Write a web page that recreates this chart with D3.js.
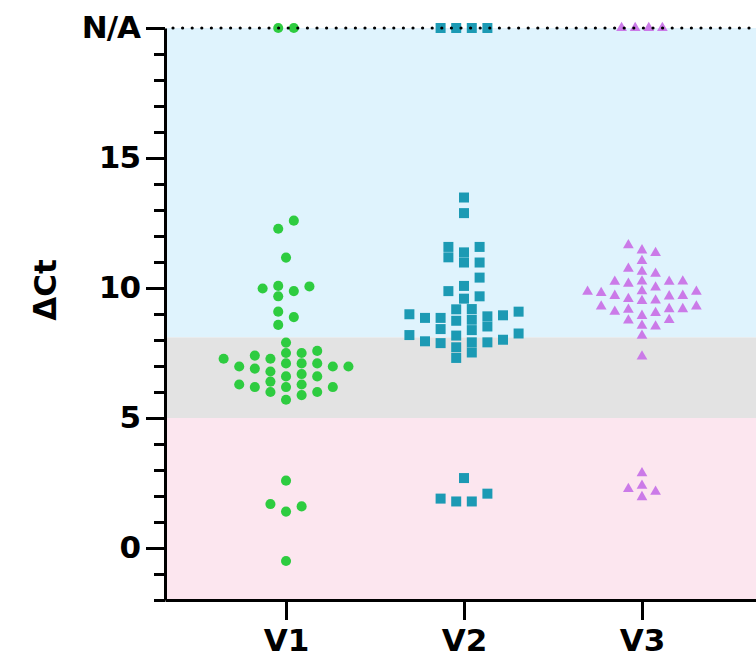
<!DOCTYPE html>
<html>
<head>
<meta charset="utf-8">
<script src="https://cdn.jsdelivr.net/npm/d3@7"></script>
<style>
body { margin: 0; background: #ffffff; }
text { font-family: "DejaVu Sans", "Liberation Sans", Arial, sans-serif; font-weight: bold; }
</style>
</head>
<body>
<div id="divForChart"></div>
<script>
// values
var groups = ["V1", "V2", "V3"];
var v1Values = [12.59, 12.28, 11.17, 10.06, 9.88, 9.98, 10.08, 9.68, 9.09, 8.88, 8.58,
	7.90, 7.58, 7.50, 7.50, 7.10, 6.98, 7.28, 7.10, 7.28, 6.90, 6.98, 7.40, 6.98, 7.10,
	6.60, 6.79, 6.69, 6.60, 6.29, 6.19, 6.29, 6.19, 6.19, 6.40, 6.00, 5.88, 5.70, 6.00,
	2.59, 1.69, 1.60, 1.40, -0.50];
var v2Values = [13.48, 12.88, 11.58, 11.58, 11.37, 10.98, 11.18, 10.98, 10.40, 9.88, 10.08,
	9.59, 9.68, 8.95, 9.18, 8.78, 8.85, 8.85, 9.19, 8.74, 8.91, 9.09, 8.99, 8.25, 8.38,
	8.42, 8.52, 8.19, 7.91, 8.01, 7.88, 7.52, 8.17, 7.72, 7.31, 7.91, 7.95,
	2.69, 2.09, 1.79, 1.79, 1.90];
var v3Values = [11.45, 11.35, 11.65, 11.04, 10.74, 10.55, 10.63, 10.24, 10.24, 10.17, 10.02,
	10.25, 10.25, 9.88, 9.70, 9.86, 9.81, 9.70, 9.52, 9.58, 9.68, 9.86, 9.19, 9.50, 9.17,
	8.93, 9.04, 9.09, 9.19, 9.29, 9.29, 8.77, 8.55, 8.52, 8.75, 8.17, 7.37,
	2.88, 2.40, 2.27, 2.17, 1.96];
var naCounts = [2, 4, 4];
var naValue = 20;
var majorTicks = [0, 5, 10, 15, 20];
var minorTicks = [-2, -1, 1, 2, 3, 4, 6, 7, 8, 9, 11, 12, 13, 14, 16, 17, 18, 19];
var bands = [[8.1, 20], [5, 8.1], [-2, 5]];

var width = 756;
var height = 657;
var axisX = 165;
var axisY = 600;
var bandColors = ["#dff3fd", "#e3e3e3", "#fce6ef"];
var pointColors = ["#2ecc40", "#1c9ab4", "#cb7ae8"];
var symbols = [d3.symbolCircle, d3.symbolSquare, d3.symbolTriangle];
var symbolSizes = [80, 100, 50];
var colStep = [15.6, 15.6, 13.6];
var rowGap = [10, 10, 9.5];

var y = d3.scaleLinear().domain([-2, 20]).range([axisY, 28]);
var x = d3.scalePoint().domain(groups).range([axisX, 763]).padding(0.68);

var svg = d3.select("#divForChart").append("svg")
	.attr("width", width)
	.attr("height", height)
	.attr("id", "chartSVG");

// background bands
svg.selectAll(".band").data(bands).enter().append("rect")
	.attr("class", "band")
	.attr("x", axisX)
	.attr("y", function(d) { return y(d[1]); })
	.attr("width", width - axisX)
	.attr("height", function(d) { return y(d[0]) - y(d[1]); })
	.attr("fill", function(d, i) { return bandColors[i]; });

// simple column swarm: lowest first, nearest free column, then centre each clump
function swarm(vals, step, gap)
{
	var pts = vals.map(function(v) { return {v: v, py: y(v)}; })
		.sort(function(a, b) { return a.v - b.v; });
	var placed = [];
	pts.forEach(function(p) {
		for (var k = 0; k < 50; k++)
		{
			var cands = k == 0 ? [0] : [k, -k];
			var free = cands.filter(function(c) {
				return !placed.some(function(q) { return q.col == c && Math.abs(q.py - p.py) < gap; });
			});
			if (free.length) { p.col = free[0]; break; }
		}
		placed.push(p);
	});
	var parent = placed.map(function(d, i) { return i; });
	function find(i) { while (parent[i] != i) i = parent[i]; return i; }
	for (var i = 0; i < placed.length; i++)
		for (var j = i + 1; j < placed.length; j++)
			if (Math.abs(placed[i].py - placed[j].py) < gap && Math.abs(placed[i].col - placed[j].col) <= 1)
				parent[find(j)] = find(i);
	var clumps = d3.group(placed, function(d) { return find(placed.indexOf(d)); });
	clumps.forEach(function(list) {
		var mid = (d3.min(list, function(d) { return d.col; }) + d3.max(list, function(d) { return d.col; })) / 2;
		list.forEach(function(d) { d.off = (d.col - mid) * step; });
	});
	return placed;
}

var allValues = [v1Values, v2Values, v3Values];
allValues.forEach(function(vals, gi) {
	var list = vals.concat(d3.range(naCounts[gi]).map(function() { return naValue; }));
	var pts = swarm(list, colStep[gi], rowGap[gi]);
	svg.append("g").attr("id", "G" + groups[gi])
		.selectAll("path").data(pts).enter().append("path")
		.attr("d", d3.symbol().type(symbols[gi]).size(symbolSizes[gi]))
		.attr("transform", function(d) { return "translate(" + (x(groups[gi]) + d.off) + "," + d.py + ")"; })
		.attr("fill", pointColors[gi]);
});

// dotted N/A line over the points
svg.append("line")
	.attr("x1", axisX + 8)
	.attr("x2", width)
	.attr("y1", y(naValue))
	.attr("y2", y(naValue))
	.attr("stroke", "#000")
	.attr("stroke-width", 3.2)
	.attr("stroke-linecap", "round")
	.attr("stroke-dasharray", "0 9.6");

// axes
var minorAxis = svg.append("g")
	.attr("transform", "translate(" + axisX + ",0)")
	.call(d3.axisLeft(y).tickValues(minorTicks).tickSize(11).tickFormat(""));
var yAxis = svg.append("g")
	.attr("transform", "translate(" + axisX + ",0)")
	.call(d3.axisLeft(y).tickValues(majorTicks).tickSize(19).tickSizeOuter(0).tickPadding(6)
		.tickFormat(function(d) { return d == naValue ? "N/A" : d; }));
var xAxis = svg.append("g")
	.attr("transform", "translate(0," + axisY + ")")
	.call(d3.axisBottom(x).tickSize(20).tickSizeOuter(0).tickPadding(9));

[minorAxis, yAxis, xAxis].forEach(function(a) {
	a.selectAll("path, line").attr("stroke", "#000").attr("stroke-width", 3);
	a.selectAll("text").attr("fill", "#000").style("font-size", "31px");
});
yAxis.selectAll("text").style("letter-spacing", "-1px");
minorAxis.select(".domain").remove();

svg.append("text")
	.text("ΔCt")
	.attr("transform", "translate(56,290) rotate(-90)")
	.attr("text-anchor", "middle")
	.attr("fill", "#000")
	.style("font-size", "31px");
</script>
</body>
</html>
